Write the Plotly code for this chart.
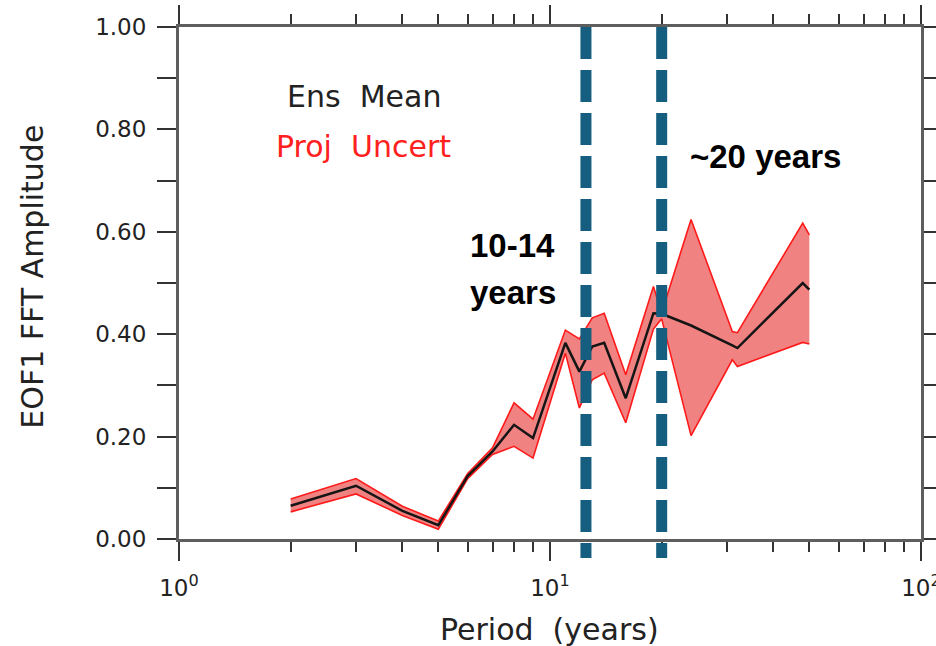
import plotly.graph_objects as go

# ---- data ----
period = [2, 3, 4, 5, 6, 7, 8, 9, 11, 12, 13, 14, 16, 19, 20, 24, 31, 32, 48, 50]
ens_mean = [0.065, 0.104, 0.055, 0.027, 0.123, 0.171, 0.223, 0.197, 0.383, 0.327,
            0.376, 0.383, 0.275, 0.441, 0.440, 0.417, 0.378, 0.373, 0.500, 0.487]
upper = [0.078, 0.118, 0.064, 0.035, 0.128, 0.178, 0.266, 0.234, 0.408, 0.391,
         0.432, 0.441, 0.321, 0.493, 0.442, 0.624, 0.405, 0.403, 0.617, 0.594]
lower = [0.053, 0.088, 0.046, 0.019, 0.118, 0.165, 0.181, 0.158, 0.363, 0.256,
         0.311, 0.324, 0.227, 0.410, 0.430, 0.202, 0.350, 0.337, 0.384, 0.381]

marker_periods = [12.5, 20]   # dashed markers ("10-14 years", "~20 years")

x_major = [1, 10, 100]
x_major_text = ["10<sup>0</sup>", "10<sup>1</sup>", "10<sup>2</sup>"]
x_minor = [2, 3, 4, 5, 6, 7, 8, 9, 20, 30, 40, 50, 60, 70, 80, 90]
y_ticks = [0.0, 0.1, 0.2, 0.3, 0.4, 0.5, 0.6, 0.7, 0.8, 0.9, 1.0]
y_text = ["0.00", "", "0.20", "", "0.40", "", "0.60", "", "0.80", "", "1.00"]

FONT = "DejaVu Sans"

fig = go.Figure()
fig.add_trace(go.Scatter(x=period, y=lower, mode="lines",
                         line=dict(color="#ff1a1a", width=1.6), showlegend=False))
fig.add_trace(go.Scatter(x=period, y=upper, mode="lines", fill="tonexty",
                         fillcolor="#f08282",
                         line=dict(color="#ff1a1a", width=1.6), showlegend=False))
fig.add_trace(go.Scatter(x=period, y=ens_mean, mode="lines",
                         line=dict(color="#151515", width=2.5), showlegend=False))

for p in marker_periods:
    fig.add_shape(type="line", xref="x", yref="paper", x0=p, x1=p, y0=1.0, y1=-0.037,
                  line=dict(color="#165e80", width=11, dash="32px,11px"), layer="above")

axis_common = dict(showline=True, linewidth=3, linecolor="#5e5e5e", mirror="ticks",
                   ticks="outside", ticklen=19, tickwidth=2, tickcolor="#333333",
                   showgrid=False, zeroline=False, automargin=False,
                   ticklabeloverflow="allow",
                   tickfont=dict(family=FONT, size=23, color="#222222"))

fig.update_xaxes(type="log", range=[0, 2], tickmode="array", tickvals=x_major,
                 ticktext=x_major_text, ticklabelstandoff=7,
                 minor=dict(tickmode="array", tickvals=x_minor, ticklen=10, tickwidth=2,
                            tickcolor="#333333", ticks="outside", showgrid=False),
                 **axis_common)
fig.update_yaxes(range=[0, 1], tickmode="array", tickvals=y_ticks, ticktext=y_text,
                 ticklabelstandoff=6, **axis_common)

ann = [
    dict(text="EOF1 FFT Amplitude", x=-0.197, y=0.512, textangle=-90,
         font=dict(family=FONT, size=30, color="#222222")),
    dict(text="Period  (years)", x=0.4987, y=-0.177,
         font=dict(family=FONT, size=30, color="#222222")),
    dict(text="Ens  Mean", x=0.2493, y=0.8639,
         font=dict(family=FONT, size=30, color="#222222")),
    dict(text="Proj  Uncert", x=0.2493, y=0.7662,
         font=dict(family=FONT, size=30, color="#ff2020")),
    dict(text="<b>10-14</b>", x=0.450, y=0.5729,
         font=dict(family="Liberation Sans", size=33, color="#000000")),
    dict(text="<b>years</b>", x=0.450, y=0.481,
         font=dict(family="Liberation Sans", size=33, color="#000000")),
    dict(text="<b>~20 years</b>", x=0.791, y=0.7467,
         font=dict(family="Liberation Sans", size=33, color="#000000")),
]
for a in ann:
    fig.add_annotation(xref="paper", yref="paper", showarrow=False,
                       xanchor="center", yanchor="middle", **a)

fig.update_layout(width=936, height=646, margin=dict(l=179, r=15, t=27, b=107),
                  plot_bgcolor="white", paper_bgcolor="white", showlegend=False)

fig.write_html("out.html")
